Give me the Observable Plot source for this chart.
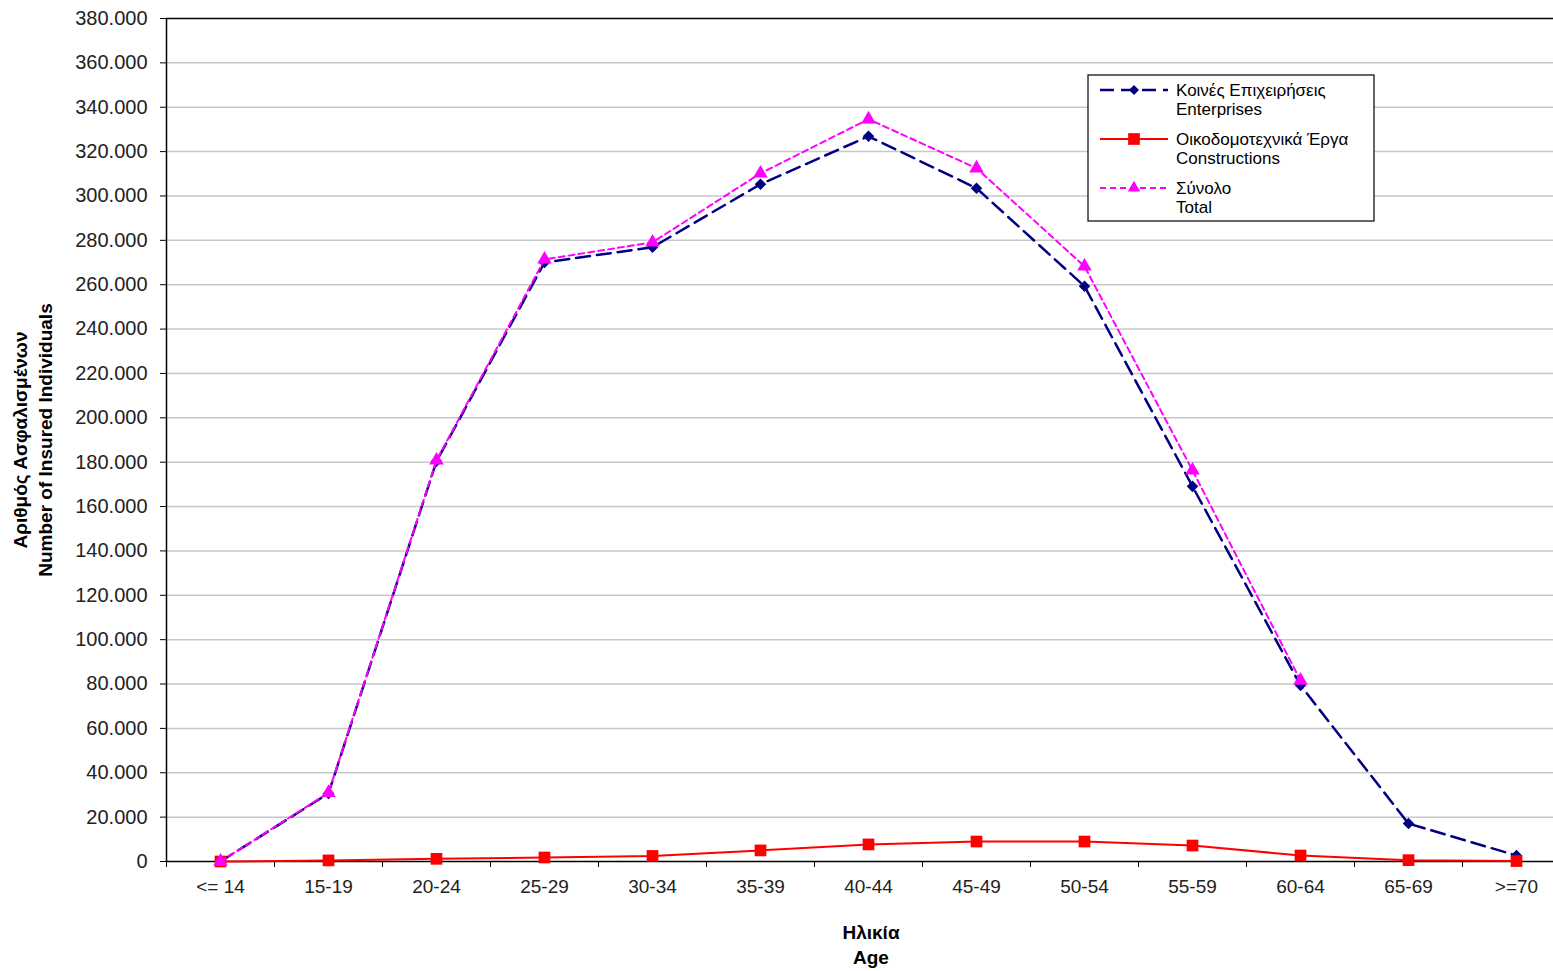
<!DOCTYPE html>
<html><head><meta charset="utf-8">
<script src="https://cdn.jsdelivr.net/npm/d3@7"></script>
<script src="https://cdn.jsdelivr.net/npm/@observablehq/plot@0.6"></script>
<style>body{margin:0;overflow:hidden;background:#fff} svg{max-width:none !important;height:971px !important;}</style>
</head><body><div id="chart"></div>
<script>
const ages = ["<= 14","15-19","20-24","25-29","30-34","35-39","40-44","45-49","50-54","55-59","60-64","65-69",">=70"];
const enterprises = [0, 30700, 180400, 270000, 276900, 305300, 326900, 303500, 259300, 169100, 79400, 17100, 2700];
const constructions = [0, 500, 1200, 1800, 2500, 5000, 7700, 9000, 9000, 7200, 2700, 600, 200];
const total = [0, 31000, 180800, 271400, 279100, 310200, 334600, 312500, 268300, 176300, 81600, null, null];
const yTicks = d3.range(0, 380001, 20000);
const legendNames = [["Κοινές Επιχειρήσεις","Enterprises"],["Οικοδομοτεχνικά Έργα","Constructions"],["Σύνολο","Total"]];
const yTitle = ["Αριθμός Ασφαλισμένων","Number of Insured Individuals"];
const xTitle = ["Ηλικία","Age"];

const rows = ages.map((a, i) => ({i, age: a, ent: enterprises[i], con: constructions[i], tot: total[i]}));
const fmt = d => d3.format(",")(d).replace(/,/g, ".");
const FONT = "'Liberation Sans', Arial, sans-serif";

const chart = Plot.plot({
  width: 1570, height: 971,
  marginTop: 18, marginBottom: 110, marginLeft: 166, marginRight: 0,
  style: {fontFamily: FONT, fontSize: "19px", color: "#222", background: "#fff", overflow: "visible"},
  x: {type: "linear", domain: [-0.5, ages.length - 0.5]},
  y: {domain: [0, 380000]},
  marks: [
    Plot.ruleY(yTicks.filter(t => t > 0 && t < 380000), {stroke: "#c8c8c8", strokeWidth: 1.5}),
    Plot.ruleY([380000], {stroke: "#000", strokeWidth: 1.5}),
    Plot.ruleY([0], {stroke: "#000", strokeWidth: 1.5}),
    Plot.ruleX([-0.5], {stroke: "#000", strokeWidth: 1.5}),
    Plot.axisY({ticks: yTicks, tickFormat: fmt, tickSize: 6, tickPadding: 13, label: null, fontSize: 20, stroke: "#000"}),
    Plot.axisX({ticks: d3.range(ages.length), tickFormat: i => ages[i], tickSize: 0, tickPadding: 18, label: null}),
    Plot.axisX({ticks: d3.range(ages.length + 1).map(i => i - 0.5), tickFormat: () => "", tickSize: 6, label: null, stroke: "#000"}),
    Plot.line(rows, {x: "i", y: "ent", stroke: "#000080", strokeWidth: 2.5, strokeDasharray: "14,7"}),
    Plot.dot(rows, {x: "i", y: "ent", symbol: "diamond2", r: 5.2, fill: "#000080"}),
    Plot.line(rows, {x: "i", y: "con", stroke: "#ff0000", strokeWidth: 2}),
    Plot.dot(rows, {x: "i", y: "con", symbol: "square", r: 6.6, fill: "#ff0000"}),
    Plot.line(rows, {x: "i", y: "tot", stroke: "#ff00ff", strokeWidth: 2, strokeDasharray: "6,4"}),
    Plot.dot(rows, {x: "i", y: "tot", symbol: "triangle", r: 5.4, fill: "#ff00ff"})
  ]
});
document.getElementById("chart").appendChild(chart);

const svg = d3.select(chart);
const xs = chart.scale("x");
const cx = (xs.apply(-0.5) + xs.apply(ages.length - 0.5)) / 2;

// X title
const xt = svg.append("text").attr("font-family", FONT).attr("font-size", 19).attr("font-weight", "bold")
  .attr("text-anchor", "middle").attr("fill", "#000");
xTitle.forEach((t, k) => xt.append("tspan").attr("x", cx + 3).attr("y", 939 + k * 25).text(t));

// Y title
const yt = svg.append("text").attr("font-family", FONT).attr("font-size", 19).attr("font-weight", "bold")
  .attr("text-anchor", "middle").attr("fill", "#000").attr("transform", "translate(0,440) rotate(-90)");
yTitle.forEach((t, k) => yt.append("tspan").attr("x", 0).attr("y", 27 + k * 25).text(t));

// Legend
const lg = svg.append("g");
lg.append("rect").attr("x", 1088).attr("y", 75).attr("width", 286).attr("height", 146)
  .attr("fill", "#fff").attr("stroke", "#000").attr("stroke-width", 1.2);
const styles = [
  {stroke: "#000080", dash: "14,7", w: 2.5, sym: d3.symbolDiamond2, size: 64, fill: "#000080"},
  {stroke: "#ff0000", dash: null, w: 2, sym: d3.symbolSquare, size: 137, fill: "#ff0000"},
  {stroke: "#ff00ff", dash: "6,4", w: 2, sym: d3.symbolTriangle, size: 66, fill: "#ff00ff"}
];
legendNames.forEach((names, k) => {
  const y0 = 90 + k * 49;
  const s = styles[k];
  lg.append("line").attr("x1", 1100).attr("x2", 1168).attr("y1", y0).attr("y2", y0)
    .attr("stroke", s.stroke).attr("stroke-width", s.w).attr("stroke-dasharray", s.dash);
  lg.append("path").attr("d", d3.symbol(s.sym, s.size)()).attr("transform", `translate(1134,${y0})`).attr("fill", s.fill);
  const t = lg.append("text").attr("font-family", FONT).attr("font-size", 17).attr("fill", "#000")
    .attr("text-anchor", "start");
  names.forEach((n, j) => t.append("tspan").attr("x", 1176).attr("y", y0 + 6 + j * 19).text(n));
});
</script>
</body></html>
